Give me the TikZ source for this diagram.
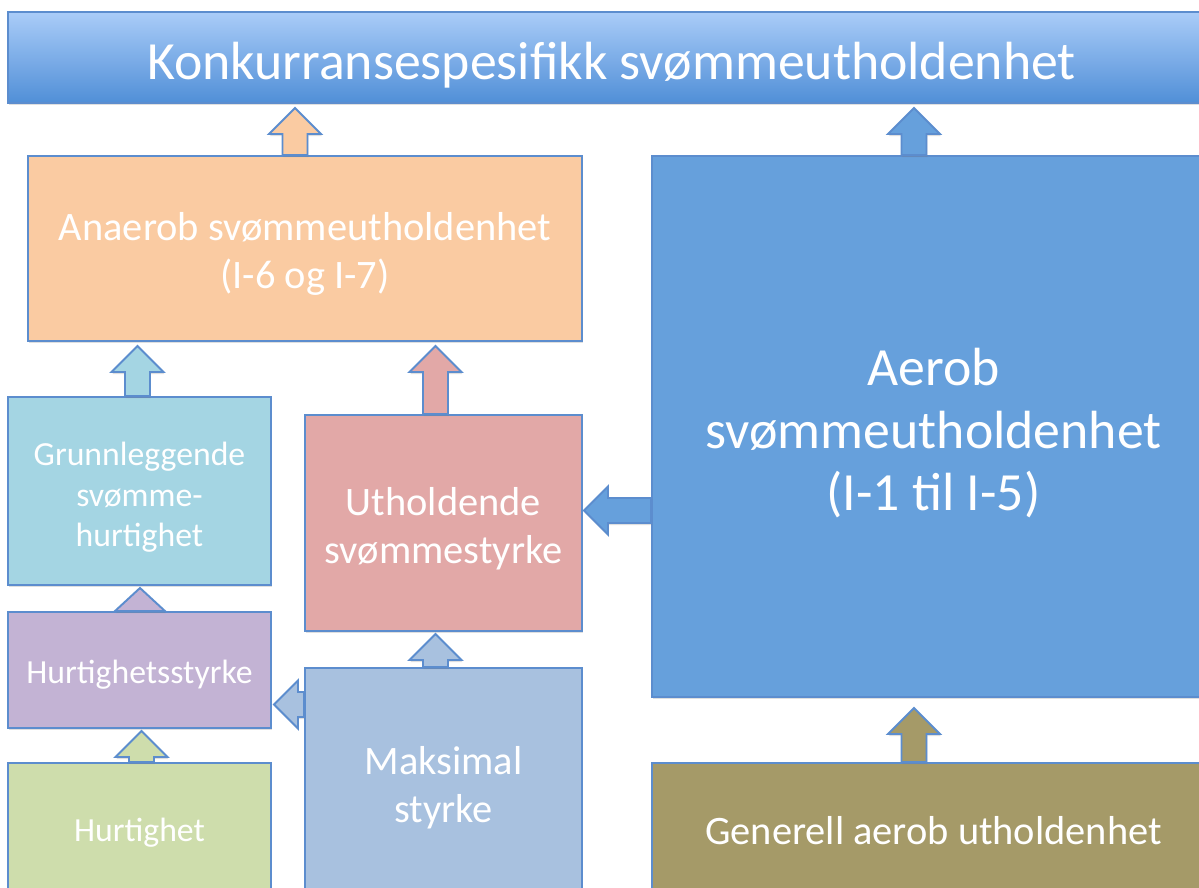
\documentclass[tikz,border=0pt]{standalone}
\usepackage{fontspec}
\setmainfont{Carlito}
\usetikzlibrary{calc,shadows}

\definecolor{edgeblue}{RGB}{92,141,206}
\definecolor{titletop}{RGB}{170,204,248}
\definecolor{titlebot}{RGB}{80,143,215}
\definecolor{anaerobcol}{RGB}{250,203,162}
\definecolor{aerobcol}{RGB}{102,160,220}
\definecolor{grunncol}{RGB}{164,213,227}
\definecolor{utholdcol}{RGB}{226,168,167}
\definecolor{hstyrkecol}{RGB}{195,179,212}
\definecolor{hurtigcol}{RGB}{206,221,172}
\definecolor{maksicol}{RGB}{168,193,223}
\definecolor{generellcol}{RGB}{165,154,104}

% one pixel of the sketch
\newcommand{\pxl}{0.02cm}
\newlength{\pxlen}
\setlength{\pxlen}{0.02cm}

% lines of a box, set a little lower (px)
\newcommand{\boxlines}[2]{\raisebox{-#1\pxlen}[\height][\depth]{\begin{tabular}{@{}c@{}}#2\end{tabular}}}

% block arrow upwards: fill, x (px), from, to, gap (px)
\newcommand{\blockup}[5]{%
  \draw[blockarrow, fill=#1] let \p1=(#3.north), \p2=(#4.south) in
    ({(#2-12.5)*\pxl},\y1) -- ({(#2-12.5)*\pxl},{\y2-(#5+26)*\pxl})
    -- ({(#2-26)*\pxl},{\y2-(#5+26)*\pxl}) -- ({#2*\pxl},{\y2-#5*\pxl})
    -- ({(#2+26)*\pxl},{\y2-(#5+26)*\pxl}) -- ({(#2+12.5)*\pxl},{\y2-(#5+26)*\pxl})
    -- ({(#2+12.5)*\pxl},\y1) -- cycle;}

% block arrow to the left: fill, y (px), from, to, gap (px)
\newcommand{\blockleft}[5]{%
  \draw[blockarrow, fill=#1] let \p1=(#3.west), \p2=(#4.east) in
    (\x1,{-(#2-12.5)*\pxl}) -- ({\x2+(#5+24)*\pxl},{-(#2-12.5)*\pxl})
    -- ({\x2+(#5+24)*\pxl},{-(#2-24)*\pxl}) -- ({\x2+#5*\pxl},{-#2*\pxl})
    -- ({\x2+(#5+24)*\pxl},{-(#2+24)*\pxl}) -- ({\x2+(#5+24)*\pxl},{-(#2+12.5)*\pxl})
    -- (\x1,{-(#2+12.5)*\pxl}) -- cycle;}

\begin{document}
\begin{tikzpicture}[x=0.02cm, y=-0.02cm]
	\tikzset{
		box/.style={draw=edgeblue, line width=1.1pt, text=white, align=center, inner sep=0pt,
			drop shadow={shadow xshift=0.5pt, shadow yshift=-1.2pt, opacity=0.25}},
		pxsize/.style 2 args={minimum width=#1*\pxl, minimum height=#2*\pxl},
		blockarrow/.style={draw=edgeblue, line width=1.1pt, line join=miter,
			drop shadow={shadow xshift=0.5pt, shadow yshift=-1.2pt, opacity=0.25}},
		bigtext/.style={font=\fontsize{30.6}{35.7}\selectfont},
		midtext/.style={font=\fontsize{23}{27.5}\selectfont},
		smalltext/.style={font=\fontsize{19.2}{22.8}\selectfont}
	}
	\useasboundingbox (0,0) rectangle (1199,887);
	\clip (0,0) rectangle (1199,887);

	\node[box, bigtext, pxsize={1207}{91}, top color=titletop, bottom color=titlebot] (konk) at (611.5,57.5) {\boxlines{9}{Konkurransespesifikk svømmeutholdenhet}};

	\node[box, midtext, pxsize={554}{185}, fill=anaerobcol] (anaerob) at (305,248.5) {\boxlines{6}{Anaerob svømmeutholdenhet\\(I-6 og I-7)}};
	\node[box, bigtext, pxsize={563}{541}, fill=aerobcol] (aerob) at (933.5,426.5) {\boxlines{9}{Aerob\\svømmeutholdenhet\\(I-1 til I-5)}};

	\node[box, smalltext, pxsize={263}{188}, fill=grunncol] (grunn) at (139.5,491) {\boxlines{7}{Grunnleggende\\svømme-\\hurtighet}};
	\node[box, midtext, pxsize={277}{216}, fill=utholdcol] (uthold) at (443.5,523) {\boxlines{6.5}{Utholdende\\svømmestyrke}};
	\node[box, smalltext, pxsize={263}{116}, fill=hstyrkecol] (hstyrke) at (139.5,670) {\boxlines{5.5}{Hurtighetsstyrke}};

	\node[box, smalltext, pxsize={263}{142}, fill=hurtigcol] (hurtig) at (139.5,834) {\boxlines{-1}{Hurtighet}};
	\node[box, midtext, pxsize={277}{237}, fill=maksicol] (maksi) at (443.5,786.5) {\boxlines{2}{Maksimal\\styrke}};
	\node[box, midtext, pxsize={563}{142}, fill=generellcol] (generell) at (933.5,834) {\boxlines{1}{Generell aerob utholdenhet}};

	\blockup{anaerobcol}{295}{anaerob}{konk}{4}
	\blockup{aerobcol}{914}{aerob}{konk}{4}
	\blockup{grunncol}{137.5}{grunn}{anaerob}{4}
	\blockup{utholdcol}{435.5}{uthold}{anaerob}{4}
	\blockup{maksicol}{435.5}{maksi}{uthold}{2}
	\blockup{hurtigcol}{141.5}{hurtig}{hstyrke}{2}
	\blockup{generellcol}{914}{generell}{aerob}{10}
	\draw[blockarrow, fill=hstyrkecol] let \p1=(hstyrke.north), \p2=(grunn.south) in
		({115*\pxl},\y1) -- ({140*\pxl},{\y2-2*\pxl}) -- ({165*\pxl},\y1) -- cycle;

	\blockleft{aerobcol}{510.5}{aerob}{uthold}{1}
	\blockleft{maksicol}{704.5}{maksi}{hstyrke}{2}
\end{tikzpicture}
\end{document}
